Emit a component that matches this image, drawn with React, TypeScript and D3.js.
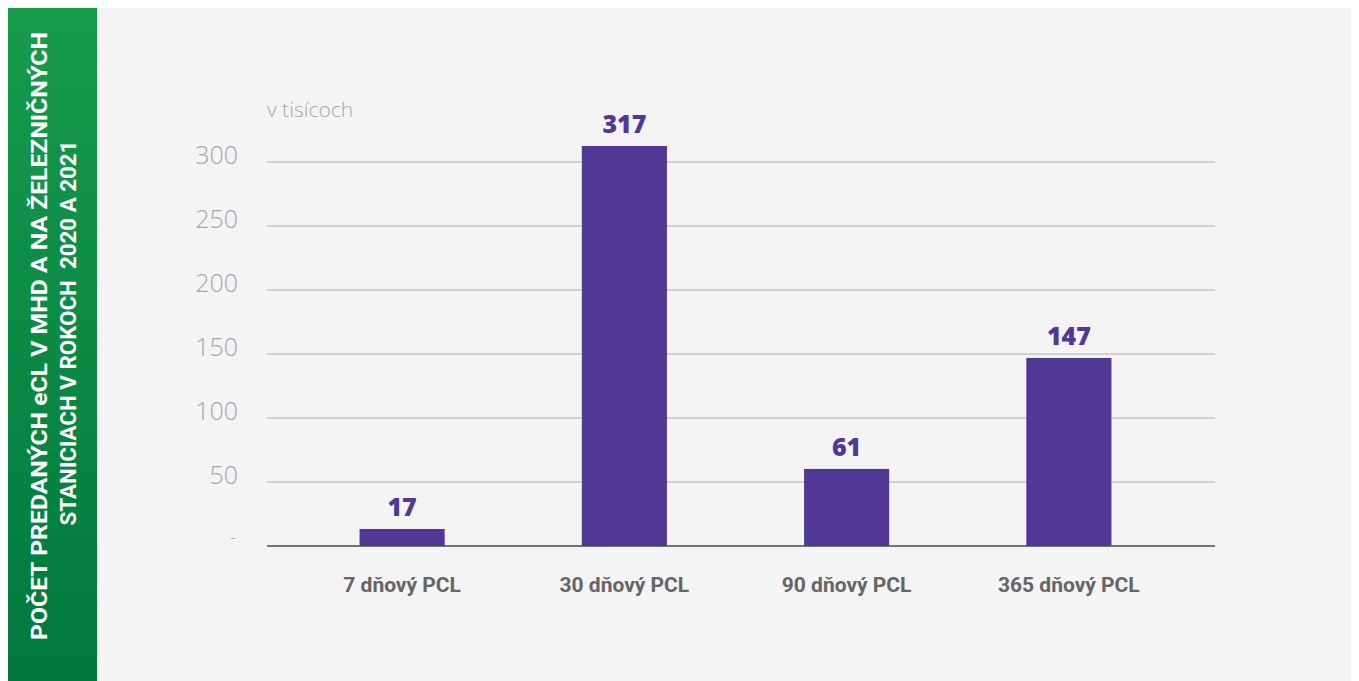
import { useEffect, useRef } from "react";
import * as d3 from "d3";

// bar heights (thousands) and the printed labels
const categories = ["7 dňový PCL", "30 dňový PCL", "90 dňový PCL", "365 dňový PCL"];
const values = [13.3, 312.5, 60.2, 146.9];
const valueLabels = ["17", "317", "61", "147"];
const yTicks = [0, 50, 100, 150, 200, 250, 300];
const titleLines = [
  "POČET PREDANÝCH eCL V MHD A NA ŽELEZNIČNÝCH",
  "STANICIACH V ROKOCH  2020 A 2021",
];
const unitLabel = "v tisícoch";

const W = 1351;
const H = 673;

export default function App() {
  const svgRef = useRef<SVGSVGElement>(null);

  useEffect(() => {
    if (!svgRef.current) return;
    const svg = d3.select(svgRef.current);
    svg.selectAll("*").remove();

    // work in page coordinates (body margin is 8px)
    const root = svg.append("g").attr("transform", "translate(-8,-8)");

    // ── defs ───────────────────────────────────────────────
    const defs = svg.append("defs");
    const grad = defs.append("linearGradient")
      .attr("id", "greenGrad")
      .attr("x1", 0).attr("y1", 0).attr("x2", 0).attr("y2", 1);
    grad.append("stop").attr("offset", "0%").attr("stop-color", "#179b4b");
    grad.append("stop").attr("offset", "100%").attr("stop-color", "#00793d");

    // ── backgrounds ────────────────────────────────────────
    root.append("rect")
      .attr("x", 97).attr("y", 8).attr("width", 1359 - 97).attr("height", H)
      .attr("fill", "#f4f4f4");
    root.append("rect")
      .attr("x", 8).attr("y", 8).attr("width", 89).attr("height", H)
      .attr("fill", "url(#greenGrad)");

    // ── side title ─────────────────────────────────────────
    const titlePos = [
      { x: 47, cy: 336, len: 608 },
      { x: 76, cy: 333, len: 385 },
    ];
    titleLines.forEach((line, i) => {
      const p = titlePos[i];
      root.append("text")
        .attr("transform", `translate(${p.x},${p.cy}) rotate(-90)`)
        .attr("text-anchor", "middle")
        .attr("fill", "#ffffff")
        .attr("font-size", "22px")
        .attr("font-weight", "700")
        .attr("textLength", p.len)
        .attr("lengthAdjust", "spacingAndGlyphs")
        .style("font-family", "Roboto, 'Noto Sans', sans-serif")
        .style("white-space", "pre")
        .text(line);
    });

    // ── scales ─────────────────────────────────────────────
    const x = d3.scaleBand<string>()
      .domain(categories)
      .range([291, 1180])
      .paddingInner(0.617)
      .paddingOuter(0.3085);
    const y = d3.scaleLinear().domain([0, 300]).range([546, 162]);

    // ── grid + y labels ────────────────────────────────────
    const gridX0 = 267;
    const gridX1 = 1215;
    yTicks.forEach(t => {
      if (t > 0) {
        root.append("line")
          .attr("x1", gridX0).attr("x2", gridX1)
          .attr("y1", y(t)).attr("y2", y(t))
          .attr("stroke", "#c6c6c6")
          .attr("stroke-width", 1.5);
      }
      root.append("text")
        .attr("x", t === 0 ? 236 : 238)
        .attr("y", t === 0 ? y(t) - 2 : y(t) + 2)
        .attr("text-anchor", "end")
        .attr("fill", "#a6a6a6")
        .attr("font-size", t === 0 ? "18px" : "25px")
        .attr("font-weight", "300")
        .style("font-family", "'Open Sans', sans-serif")
        .text(t === 0 ? "-" : String(t));
    });

    root.append("text")
      .attr("x", 267).attr("y", 117)
      .attr("fill", "#a6a6a6")
      .attr("font-size", "21px")
      .attr("font-weight", "300")
      .style("font-family", "'Open Sans', sans-serif")
      .text(unitLabel);

    // ── bars ───────────────────────────────────────────────
    categories.forEach((c, i) => {
      root.append("rect")
        .attr("x", x(c)!)
        .attr("y", y(values[i]))
        .attr("width", x.bandwidth())
        .attr("height", y(0) - y(values[i]))
        .attr("fill", "#513894");

      root.append("text")
        .attr("x", x(c)! + x.bandwidth() / 2)
        .attr("y", y(values[i]) - 13)
        .attr("text-anchor", "middle")
        .attr("fill", "#513894")
        .attr("font-size", "25px")
        .attr("font-weight", "800")
        .style("font-family", "'Open Sans', sans-serif")
        .text(valueLabels[i]);

      root.append("text")
        .attr("x", x(c)! + x.bandwidth() / 2)
        .attr("y", 592)
        .attr("text-anchor", "middle")
        .attr("fill", "#656565")
        .attr("font-size", "21px")
        .attr("font-weight", "700")
        .style("font-family", "Roboto, sans-serif")
        .text(c);
    });

    // baseline
    root.append("line")
      .attr("x1", gridX0).attr("x2", gridX1)
      .attr("y1", y(0)).attr("y2", y(0))
      .attr("stroke", "#4a4a4a")
      .attr("stroke-width", 1.5);
  }, []);

  return (
    <svg ref={svgRef} width={W} height={H} style={{ display: "block" }} />
  );
}
